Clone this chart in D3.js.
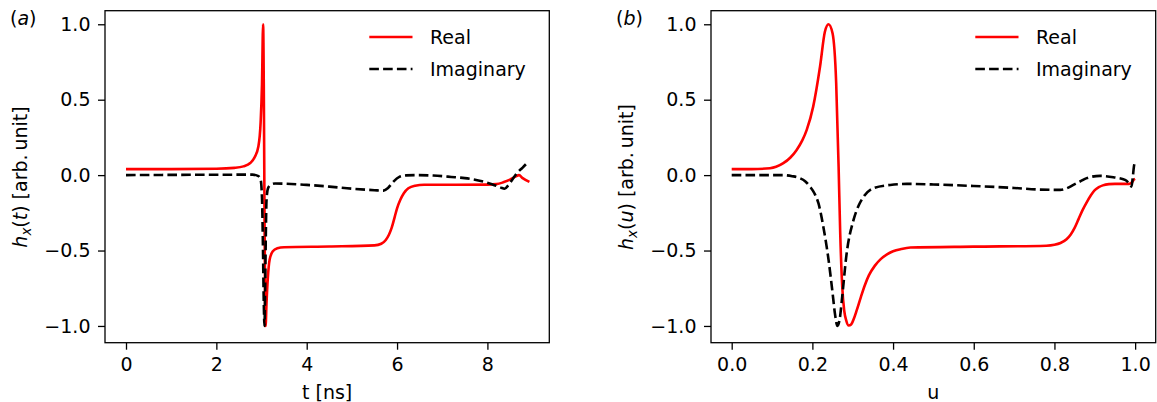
<!DOCTYPE html>
<html>
<head>
<meta charset="utf-8">
<script src="https://cdn.jsdelivr.net/npm/d3@7"></script>
<style>
  html, body { margin: 0; padding: 0; background: #fff; }
  svg { display: block; }
  text { font-family: "DejaVu Sans", sans-serif; fill: #000; }
</style>
</head>
<body>
<svg id="chart" width="1157" height="402"></svg>
<script>
// ---------- data ----------
const tA = [0, 1.0, 2.0, 2.4, 2.6, 2.75, 2.85, 2.93, 2.98, 3.01, 3.035, 3.05, 3.065, 3.08, 3.09, 3.11, 3.14, 3.18, 3.25, 3.35, 3.5, 4.5, 5.5, 5.65, 5.75, 5.82, 5.88, 5.95, 6.0, 6.07, 6.15, 6.25, 6.4, 6.6, 8.0, 8.2, 8.35, 8.5, 8.62, 8.7, 8.78, 8.93];
const realA = [0.04, 0.04, 0.042, 0.048, 0.058, 0.08, 0.12, 0.19, 0.35, 0.6, 1.0, 0.6, -0.2, -0.85, -1.0, -0.85, -0.68, -0.56, -0.505, -0.485, -0.478, -0.473, -0.466, -0.455, -0.43, -0.395, -0.35, -0.275, -0.22, -0.165, -0.12, -0.087, -0.07, -0.064, -0.063, -0.06, -0.048, -0.03, -0.01, 0.0, -0.02, -0.045];

const tAi = [0, 2.8, 2.92, 2.98, 3.01, 3.03, 3.05, 3.065, 3.08, 3.095, 3.11, 3.14, 3.2, 3.3, 4.0, 4.5, 5.0, 5.5, 5.7, 5.8, 5.92, 6.05, 6.2, 6.45, 6.8, 7.2, 7.5, 7.8, 8.1, 8.3, 8.38, 8.46, 8.55, 8.65, 8.78, 8.91];
const imagA = [0.0, 0.003, -0.005, -0.03, -0.15, -0.45, -0.85, -1.0, -0.75, -0.4, -0.17, -0.09, -0.065, -0.056, -0.065, -0.076, -0.09, -0.1, -0.103, -0.085, -0.043, -0.012, -0.002, 0.0, -0.003, -0.012, -0.02, -0.035, -0.06, -0.083, -0.09, -0.068, -0.03, 0.012, 0.05, 0.09];

const uB = [0, 0.05, 0.095, 0.11, 0.128, 0.145, 0.161, 0.175, 0.186, 0.202, 0.219, 0.231, 0.24, 0.25, 0.259, 0.265, 0.269, 0.274, 0.279, 0.284, 0.29, 0.296, 0.303, 0.31, 0.32, 0.33, 0.34, 0.355, 0.37, 0.385, 0.4, 0.42, 0.443, 0.6, 0.78, 0.8, 0.815, 0.83, 0.84, 0.85, 0.86, 0.87, 0.88, 0.89, 0.9, 0.91, 0.92, 0.935, 0.95, 0.985, 0.993, 0.997, 1.0];
const realB = [0.04, 0.04, 0.046, 0.055, 0.079, 0.115, 0.167, 0.23, 0.30, 0.454, 0.72, 0.95, 1.0, 0.94, 0.61, 0.056, -0.385, -0.74, -0.9, -0.965, -0.997, -0.99, -0.95, -0.895, -0.81, -0.73, -0.665, -0.6, -0.555, -0.525, -0.505, -0.49, -0.48, -0.474, -0.468, -0.462, -0.45, -0.425, -0.395, -0.35, -0.29, -0.23, -0.18, -0.135, -0.1, -0.08, -0.068, -0.06, -0.058, -0.058, -0.045, -0.03, -0.025];

const uBi = [0, 0.127, 0.15, 0.169, 0.182, 0.194, 0.205, 0.215, 0.227, 0.24, 0.25, 0.256, 0.262, 0.268, 0.273, 0.285, 0.302, 0.315, 0.327, 0.351, 0.393, 0.434, 0.5, 0.6, 0.7, 0.764, 0.814, 0.83, 0.847, 0.865, 0.88, 0.913, 0.946, 0.975, 0.988, 0.991, 0.994, 0.997, 0.999];
const imagB = [0.0, 0.0, -0.007, -0.02, -0.04, -0.076, -0.12, -0.186, -0.34, -0.56, -0.78, -0.92, -1.0, -0.95, -0.83, -0.518, -0.297, -0.2, -0.143, -0.087, -0.065, -0.058, -0.062, -0.072, -0.085, -0.096, -0.098, -0.088, -0.065, -0.04, -0.02, -0.005, -0.014, -0.032, -0.065, -0.076, -0.02, 0.056, 0.083];

const xTicksA = [0, 2, 4, 6, 8];
const xTicksB = [0, 0.2, 0.4, 0.6, 0.8, 1.0];
const yTicks = [-1.0, -0.5, 0.0, 0.5, 1.0];
const legendLabels = ["Real", "Imaginary"];

// ---------- drawing ----------
const svg = d3.select("#chart");
const FS = 19;
const fmt1 = d3.format(".1f");

const panels = [
  { id: "a", x0: 105, x1: 549.3, dom: [-0.465, 9.37], ticks: xTicksA, tfmt: d3.format("d"),
    xr: tA, yr: realA, xi: tAi, yi: imagA, xlabel: "t [ns]", yvar: "t" },
  { id: "b", x0: 711, x1: 1155.7, dom: [-0.0513, 1.051], ticks: xTicksB, tfmt: fmt1,
    xr: uB, yr: realB, xi: uBi, yi: imagB, xlabel: "u", yvar: "u" }
];

const plotTop = 10.7, plotBottom = 342.7;

panels.forEach((p) => {
  const x = d3.scaleLinear().domain(p.dom).range([p.x0, p.x1]);
  const y = d3.scaleLinear().domain([-1.111, 1.090]).range([plotBottom, plotTop]);
  const g = svg.append("g");

  g.append("clipPath").attr("id", "clip" + p.id)
    .append("rect").attr("x", p.x0).attr("y", plotTop).attr("width", p.x1 - p.x0).attr("height", plotBottom - plotTop);

  const line = d3.line().x(d => x(d[0])).y(d => y(d[1])).curve(d3.curveMonotoneX);
  const realPts = p.xr.map((v, i) => [v, p.yr[i]]);
  const imagPts = p.xi.map((v, i) => [v, p.yi[i]]);

  const plot = g.append("g").attr("clip-path", `url(#clip${p.id})`);
  plot.append("path").datum(realPts).attr("d", line)
    .attr("fill", "none").attr("stroke", "#ff0000").attr("stroke-width", 2.6)
    .attr("stroke-linejoin", "round");
  plot.append("path").datum(imagPts).attr("d", line)
    .attr("fill", "none").attr("stroke", "#000").attr("stroke-width", 2.6)
    .attr("stroke-dasharray", "9.6,4.2");

  // axes
  const xa = g.append("g").attr("transform", `translate(0,${plotBottom})`)
    .call(d3.axisBottom(x).tickValues(p.ticks).tickFormat(p.tfmt).tickSize(7).tickPadding(8).tickSizeOuter(0));
  const ya = g.append("g").attr("transform", `translate(${p.x0},0)`)
    .call(d3.axisLeft(y).tickValues(yTicks).tickFormat(fmt1).tickSize(7).tickPadding(7.5).tickSizeOuter(0));
  [xa, ya].forEach(a => {
    a.select(".domain").remove();
    a.selectAll(".tick line").attr("stroke", "#000").attr("stroke-width", 1.3);
    a.selectAll(".tick text").attr("font-family", "DejaVu Sans").attr("font-size", FS).attr("fill", "#000");
  });

  // frame
  g.append("rect").attr("x", p.x0).attr("y", plotTop).attr("width", p.x1 - p.x0).attr("height", plotBottom - plotTop)
    .attr("fill", "none").attr("stroke", "#000").attr("stroke-width", 1.3);

  // x label
  g.append("text").attr("x", (p.x0 + p.x1) / 2).attr("y", 398.5)
    .attr("text-anchor", "middle").attr("font-size", FS).text(p.xlabel);

  // y label (rotated)
  const yl = g.append("text")
    .attr("transform", `translate(${p.x0 - 78},177) rotate(-90)`)
    .attr("text-anchor", "middle").attr("font-size", FS);
  yl.append("tspan").attr("font-style", "italic").text("h");
  yl.append("tspan").attr("font-style", "italic").attr("font-size", FS * 0.7).attr("dy", 4).text("x");
  yl.append("tspan").attr("dy", -4).text("(");
  yl.append("tspan").attr("font-style", "italic").text(p.yvar);
  yl.append("tspan").text(") [arb.\u2009unit]");

  // panel letter
  const pl = g.append("text").attr("x", p.x0 - 95).attr("y", 24.5).attr("font-size", FS);
  pl.append("tspan").text("(");
  pl.append("tspan").attr("font-style", "italic").text(p.id);
  pl.append("tspan").text(")");

  // legend
  const lx0 = p.x0 + 264.3, lx1 = p.x0 + 307.5, tx = p.x0 + 325;
  const rows = [37, 69];
  g.append("line").attr("x1", lx0).attr("x2", lx1).attr("y1", rows[0]).attr("y2", rows[0])
    .attr("stroke", "#ff0000").attr("stroke-width", 2.6);
  g.append("line").attr("x1", lx0).attr("x2", lx1).attr("y1", rows[1]).attr("y2", rows[1])
    .attr("stroke", "#000").attr("stroke-width", 2.6).attr("stroke-dasharray", "9.6,4.2");
  legendLabels.forEach((lab, i) => {
    g.append("text").attr("x", tx).attr("y", rows[i]).attr("dy", "0.36em")
      .attr("font-size", FS).text(lab);
  });
});
</script>
</body>
</html>
